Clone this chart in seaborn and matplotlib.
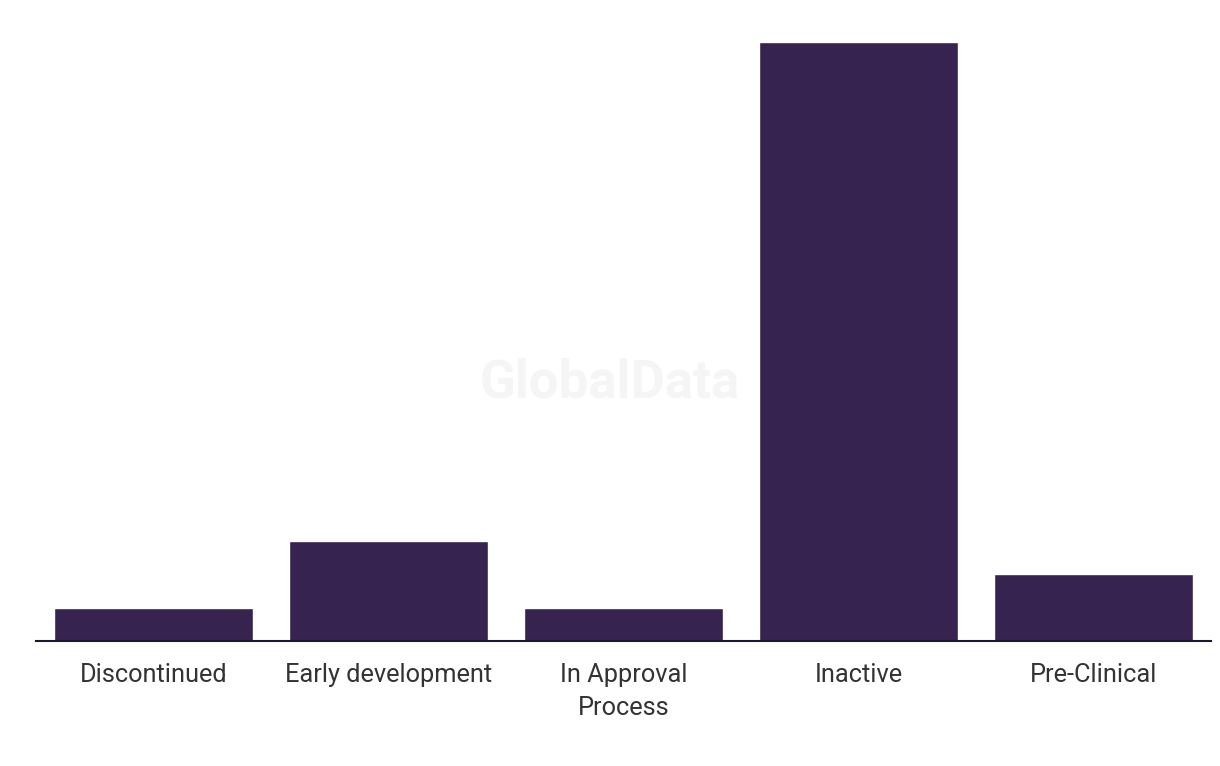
import matplotlib
matplotlib.use("Agg")
import matplotlib.pyplot as plt
import pandas as pd
import seaborn as sns

# Chart data
stages = ["Discontinued", "Early development", "In Approval\nProcess", "Inactive", "Pre-Clinical"]
counts = [1, 3, 1, 18, 2]

df = pd.DataFrame({"stage": stages, "count": counts})

sns.set_style("white")
plt.rcParams["font.family"] = ["Roboto", "DejaVu Sans"]

fig = plt.figure(figsize=(12.2, 7.66), dpi=100)
ax = fig.add_axes([36 / 1220, 125 / 766, 1175 / 1220, 599 / 766])

sns.barplot(data=df, x="stage", y="count", color="#36234f", saturation=1,
            width=0.85, ax=ax)

ax.set_xlim(-0.5, 4.5)
ax.set_ylim(0, 18)
ax.set_xlabel("")
ax.set_ylabel("")
ax.set_yticks([])
for side in ["top", "right", "left"]:
    ax.spines[side].set_visible(False)
ax.spines["bottom"].set_color("#1a1a2e")
ax.spines["bottom"].set_linewidth(1.5)
ax.tick_params(axis="x", length=0, pad=16, labelsize=18.3, labelcolor="#333333")
for lbl in ax.get_xticklabels():
    lbl.set_linespacing(1.45)

# watermark
fig.text(0.5, 0.5, "GlobalData", ha="center", va="center", fontsize=38,
         fontweight="bold", color="#f5f5f5", zorder=0)

fig.savefig("out.png", dpi=100, facecolor="white")
